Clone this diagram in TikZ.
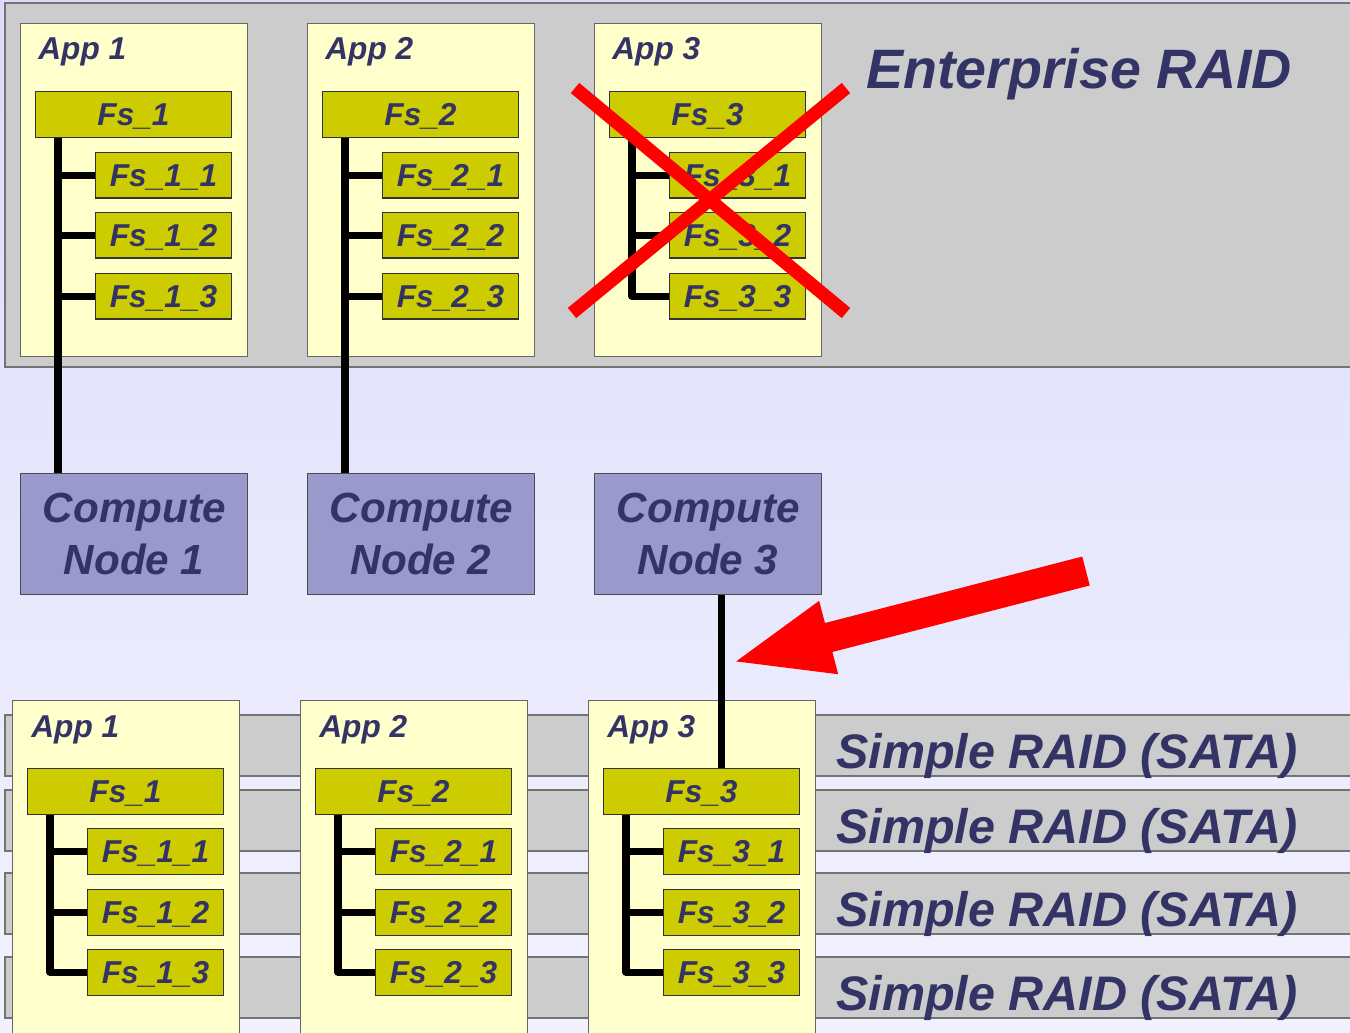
\documentclass[tikz,border=0pt]{standalone}
\usepackage{fontspec}
\setmainfont{Liberation Sans}
\usetikzlibrary{positioning,arrows.meta}

\definecolor{ink}{HTML}{333366}
\definecolor{appfill}{HTML}{FFFFCC}
\definecolor{fsfill}{HTML}{CCCC00}
\definecolor{cnfill}{HTML}{9999CC}
\definecolor{raidgray}{HTML}{CCCCCC}
\definecolor{bgtop}{HTML}{DCDCFA}
\definecolor{bgbot}{HTML}{F2F2FF}

\begin{document}
\begin{tikzpicture}[x=0.02cm, y=-0.02cm,
every node/.style = {text=ink, inner sep=0},
band/.style = {draw=black!55, fill=raidgray, line width=0.7pt},
app/.style = {draw=black!60, fill=appfill, line width=0.6pt, anchor=north west,
    minimum width=4.54cm},
apptext/.style = {font=\fontsize{18}{20}\bfseries\itshape},
fsmain/.style = {draw=black!80, fill=fsfill, line width=0.6pt, anchor=north west,
    minimum width=3.92cm, minimum height=0.92cm, text depth=0pt,
    font=\fontsize{18}{20}\bfseries\itshape},
fssub/.style = {fsmain, minimum width=2.72cm, minimum height=0.91cm},
cn/.style = {draw=black!70, fill=cnfill, line width=0.8pt, anchor=north west,
    minimum width=4.54cm, minimum height=2.42cm, align=center,
    font=\fontsize{24}{29.6}\bfseries\itshape},
raid/.style = {anchor=base west, font=\fontsize{27.6}{30}\bfseries\itshape},
trunk/.style = {line width=4pt, line join=round},
cross/.style = {red, line width=7.5pt},
pointer/.style = {red, line width=17pt, -{Triangle[length=58pt, width=38pt]}}]

\useasboundingbox (0,0) rectangle (1350,1032);
\shade[top color=bgtop, bottom color=bgbot] (0,0) rectangle (1350,1032);

% enterprise storage
\draw[band] (5,3) rectangle (1365,367);
\node[anchor=base west, font=\fontsize{31.6}{36}\bfseries\itshape] (ent) at (866,88) {Enterprise RAID};

\foreach \i/\x in {1/20, 2/307, 3/594} {
    \node[app, minimum height=6.66cm] (appA\i) at (\x,23) {};
    \node[apptext, below right=0.28cm and 0.36cm of appA\i.north west] {App \i};
    \node[fsmain] (fsA\i) at (\x+15,91) {Fs\_\i};
    \foreach \j/\y in {1/152, 2/212, 3/273}
        \node[fssub] (fsA\i\j) at (\x+75,\y) {Fs\_\i\_\j};
    \coordinate (tA\i) at ([xshift=0.46cm]fsA\i.south west);
    \node[cn] (cnA\i) at (\x,473) {Compute\\Node \i};
}
\foreach \i in {1,2} {
    \draw[trunk] (tA\i) -- (tA\i |- cnA\i.north);
    \foreach \j in {1,2,3}
        \draw[trunk] (tA\i |- fsA\i\j.west) -- (fsA\i\j.west);
}
\draw[trunk] (tA3) |- (fsA33.west);
\foreach \j in {1,2}
    \draw[trunk] (tA3 |- fsA3\j.west) -- (fsA3\j.west);

% simple storage
\foreach \y in {715, 790, 873, 957} {
    \draw[band] (5,\y) rectangle (1365,\y+61);
    \node[raid] at (836,\y+53.5) {Simple RAID (SATA)};
}
\foreach \i/\x in {1/12, 2/300, 3/588} {
    \node[app, minimum height=7cm] (appB\i) at (\x,700) {};
    \node[apptext, below right=0.3cm and 0.38cm of appB\i.north west] {App \i};
    \node[fsmain] (fsB\i) at (\x+15,768) {Fs\_\i};
    \foreach \j/\y in {1/828, 2/889, 3/949}
        \node[fssub] (fsB\i\j) at (\x+75,\y) {Fs\_\i\_\j};
    \coordinate (tB\i) at ([xshift=0.46cm]fsB\i.south west);
    \draw[trunk] (tB\i) |- (fsB\i3.west);
    \foreach \j in {1,2}
        \draw[trunk] (tB\i |- fsB\i\j.west) -- (fsB\i\j.west);
}

\coordinate (c3) at ([xshift=2.56cm]cnA3.south west);
\draw[trunk] (c3) -- (c3 |- fsB3.north);

% app 3 moved
\coordinate (xa) at (575,88);
\coordinate (xb) at (846,313);
\coordinate (xc) at (846,88);
\coordinate (xd) at (572,313);
\draw[cross] (xa) -- (xb);
\draw[cross] (xc) -- (xd);
\coordinate (arrtail) at (1086,571);
\coordinate (arrtip) at (730,663);
\draw[pointer] (arrtail) -- (arrtip);
\end{tikzpicture}
\end{document}
